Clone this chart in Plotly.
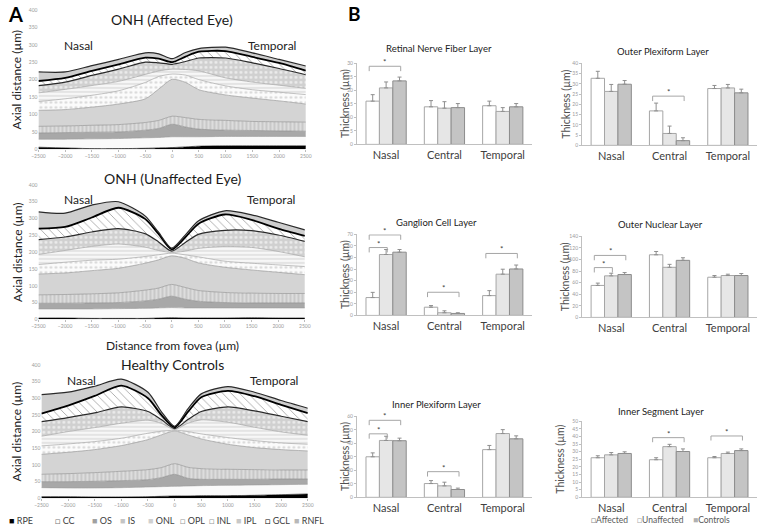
import plotly.graph_objects as go

W, H = 765, 529
FONT = "Lato, 'Open Sans', sans-serif"

# ---------------- Panel A data: upper boundary of each layer (µm) ----------------
X_POS = [-2500, -2000, -1500, -1000, -500, -250, 0, 250, 500, 1000, 1500, 2000, 2500]
LAYER_NAMES = ["RPE", "CC", "OS", "IS", "ONL", "OPL", "INL", "IPL", "GCL", "RNFL"]
X_TICKS = [-2500, -2000, -1500, -1000, -500, 0, 500, 1000, 1500, 2000, 2500]
Y_TICKS = [0, 50, 100, 150, 200, 250, 300, 350, 400]

AFF_RPE = [6, 4, 2, 2, 3, 4, 5, 7, 9, 10, 10, 10, 10]
AFF_CC = [29, 29, 30, 31, 33, 34, 36, 36, 36, 37, 37, 37, 37]
AFF_OS = [47, 48, 49, 50, 55, 60, 72, 64, 58, 55, 54, 53, 52]
AFF_IS = [66, 67, 69, 71, 77, 83, 95, 91, 86, 83, 80, 79, 78]
AFF_ONL = [112, 114, 121, 130, 145, 173, 201, 192, 171, 156, 147, 139, 130]
AFF_OPL = [137, 145, 155, 168, 192, 209, 216, 213, 200, 182, 171, 164, 157]
AFF_INL = [162, 172, 183, 195, 215, 225, 230, 229, 225, 205, 193, 184, 175]
AFF_IPL = [183, 193, 212, 230, 250, 248, 244, 252, 262, 262, 248, 232, 214]
AFF_GCL = [196, 205, 225, 244, 263, 260, 250, 266, 280, 282, 265, 248, 226]
AFF_RNFL = [222, 222, 240, 258, 277, 274, 260, 278, 289, 293, 277, 258, 239]

UNA_RPE = [4, 4, 3, 3, 3, 4, 5, 4, 4, 4, 5, 4, 4]
UNA_CC = [31, 31, 31, 32, 33, 34, 35, 34, 34, 34, 34, 34, 34]
UNA_OS = [48, 48, 49, 50, 55, 60, 69, 60, 54, 50, 49, 49, 49]
UNA_IS = [73, 74, 76, 79, 87, 93, 104, 95, 86, 80, 78, 77, 77]
UNA_ONL = [135, 138, 145, 152, 167, 177, 189, 182, 168, 155, 147, 140, 133]
UNA_OPL = [163, 170, 176, 179, 187, 192, 197, 192, 186, 173, 167, 162, 157]
UNA_INL = [193, 205, 217, 224, 215, 205, 199, 203, 211, 217, 214, 202, 186]
UNA_IPL = [237, 245, 260, 270, 255, 231, 203, 228, 253, 265, 264, 251, 232]
UNA_GCL = [270, 275, 303, 332, 299, 255, 208, 243, 284, 312, 296, 270, 248]
UNA_RNFL = [320, 316, 340, 350, 308, 260, 212, 250, 293, 323, 311, 289, 266]

CON_RPE = [5, 5, 4, 4, 5, 6, 7, 7, 8, 8, 9, 11, 13]
CON_CC = [32, 31, 31, 32, 34, 35, 36, 37, 38, 39, 40, 41, 42]
CON_OS = [50, 50, 51, 53, 56, 62, 72, 60, 57, 57, 57, 58, 58]
CON_IS = [72, 74, 77, 81, 86, 92, 104, 93, 89, 87, 86, 85, 85]
CON_ONL = [132, 138, 146, 158, 176, 190, 202, 190, 178, 162, 152, 146, 142]
CON_OPL = [157, 163, 170, 180, 195, 201, 204, 200, 193, 182, 173, 166, 162]
CON_INL = [186, 200, 212, 225, 234, 225, 206, 225, 235, 228, 213, 199, 189]
CON_IPL = [230, 242, 256, 274, 260, 236, 209, 236, 260, 274, 262, 246, 230]
CON_GCL = [254, 278, 307, 338, 300, 250, 213, 259, 303, 322, 306, 280, 255]
CON_RNFL = [311, 318, 336, 357, 318, 260, 216, 268, 313, 335, 318, 293, 270]

# ---------------- Panel B data: mean thickness and upper error (µm) ----------------
CATS = ["Nasal", "Central", "Temporal"]
GROUPS = ["Affected", "Unaffected", "Controls"]

RNFL_AFF = [16.0, 13.9, 14.3]; RNFL_AFF_ERR = [2.4, 2.3, 1.7]
RNFL_UNA = [20.9, 13.4, 12.2]; RNFL_UNA_ERR = [2.2, 2.4, 1.4]
RNFL_CON = [23.5, 13.6, 13.9]; RNFL_CON_ERR = [1.4, 1.5, 1.2]

OPL_AFF = [32.7, 16.8, 27.7]; OPL_AFF_ERR = [3.4, 3.8, 1.5]
OPL_UNA = [26.3, 5.8, 28.0]; OPL_UNA_ERR = [3.4, 3.6, 1.7]
OPL_CON = [29.8, 2.3, 25.6]; OPL_CON_ERR = [1.8, 1.4, 1.8]

GCL_AFF = [15.4, 7.1, 17.1]; GCL_AFF_ERR = [4.5, 1.4, 4.3]
GCL_UNA = [52.6, 2.3, 35.6]; GCL_UNA_ERR = [4.3, 1.7, 4.3]
GCL_CON = [54.6, 1.7, 40.1]; GCL_CON_ERR = [2.3, 0.6, 3.4]

ONL_AFF = [55.2, 108.1, 69.4]; ONL_AFF_ERR = [4.0, 5.7, 2.9]
ONL_UNA = [71.7, 86.5, 72.3]; ONL_UNA_ERR = [4.6, 5.1, 2.3]
ONL_CON = [74.0, 98.5, 72.3]; ONL_CON_ERR = [3.4, 4.5, 3.4]

IPL_AFF = [30.0, 10.2, 35.3]; IPL_AFF_ERR = [2.9, 2.2, 3.1]
IPL_UNA = [42.1, 8.5, 47.2]; IPL_UNA_ERR = [3.1, 2.7, 2.9]
IPL_CON = [41.9, 5.8, 43.3]; IPL_CON_ERR = [1.9, 1.0, 2.2]

ISL_AFF = [26.0, 24.7, 26.0]; ISL_AFF_ERR = [1.3, 1.3, 0.8]
ISL_UNA = [27.9, 33.3, 28.8]; ISL_UNA_ERR = [1.5, 1.5, 0.9]
ISL_CON = [28.8, 30.1, 30.7]; ISL_CON_ERR = [1.1, 1.7, 1.1]

# significance brackets: (category index, from group, to group, height)
RNFL_SIG = [(0, 0, 2, 28.9)]
OPL_SIG = [(1, 0, 2, 24.0)]
GCL_SIG = [(0, 0, 1, 58.6), (0, 0, 2, 69.5), (1, 0, 2, 20.0), (2, 0, 2, 53.5)]
ONL_SIG = [(0, 0, 1, 86.0), (0, 0, 2, 107.0)]
IPL_SIG = [(0, 0, 1, 47.0), (0, 0, 2, 57.0), (1, 0, 2, 19.0)]
ISL_SIG = [(1, 0, 2, 39.2), (2, 0, 2, 40.3)]

# ---------------- styling ----------------
LAYER_STYLE = {
    "RPE":  dict(fill="#000000", pat=None, line="#000000", lw=0.6),
    "CC":   dict(fill="#fafafa", pat=None, line="#9a9a9a", lw=0.6),
    "OS":   dict(fill="#a8a8a8", pat=None, line="#8a8a8a", lw=0.6),
    "IS":   dict(fill="#cbcbcb", pat=dict(shape="|", fgcolor="#e6e6e6", bgcolor="#c8c8c8", size=4, solidity=0.35), line="#8a8a8a", lw=0.6),
    "ONL":  dict(fill="#d4d4d4", pat=None, line="#8a8a8a", lw=0.6),
    "OPL":  dict(fill="#fbfbfb", pat=dict(shape=".", fgcolor="#d6d6d6", bgcolor="#fbfbfb", size=5, solidity=0.2), line="#9a9a9a", lw=0.6),
    "INL":  dict(fill="#f4f4f4", pat=dict(shape="-", fgcolor="#d8d8d8", bgcolor="#f7f7f7", size=4, solidity=0.3), line="#9a9a9a", lw=0.6),
    "IPL":  dict(fill="#d2d2d2", pat=dict(shape=".", fgcolor="#ededed", bgcolor="#d0d0d0", size=5, solidity=0.25), line="#2a2a2a", lw=1.2),
    "GCL":  dict(fill="#ffffff", pat=dict(shape="\\", fgcolor="#a8a8a8", bgcolor="#ffffff", size=6, solidity=0.15), line="#000000", lw=1.8),
    "RNFL": dict(fill="#cecece", pat=None, line="#2a2a2a", lw=1.2),
}
BAR_COLORS = ["#ffffff", "#e6e6e6", "#c4c4c4"]
BAR_LINES = ["#a6a6a6", "#a6a6a6", "#8c8c8c"]
BARGAP = 0.31

fig = go.Figure()

panels = [
    ("ONH (Affected Eye)", [AFF_RPE, AFF_CC, AFF_OS, AFF_IS, AFF_ONL, AFF_OPL, AFF_INL, AFF_IPL, AFF_GCL, AFF_RNFL]),
    ("ONH (Unaffected Eye)", [UNA_RPE, UNA_CC, UNA_OS, UNA_IS, UNA_ONL, UNA_OPL, UNA_INL, UNA_IPL, UNA_GCL, UNA_RNFL]),
    ("Healthy Controls", [CON_RPE, CON_CC, CON_OS, CON_IS, CON_ONL, CON_OPL, CON_INL, CON_IPL, CON_GCL, CON_RNFL]),
]


def dx(a, b):
    return [a / W, b / W]


def dy(top, bottom):
    return [1 - bottom / H, 1 - top / H]


def ann(text, x, y, size, color, xref="paper", yref="paper", xanchor="center", yanchor="middle", **kw):
    if xref == "paper":
        x = x / W
    if yref == "paper":
        y = 1 - y / H
    return dict(text=text, x=x, y=y, xref=xref, yref=yref, xanchor=xanchor, yanchor=yanchor,
                showarrow=False, font=dict(size=size, color=color, family=FONT), **kw)


# pixel frames of the three profile plots: (x0, x1, ytop(400), ybottom(0), title y)
LEFT_FRAMES = [(32, 304, 7, 148, 17), (32, 303, 184, 320, 178), (35, 306, 366, 501, 366)]
LABEL_Y = [297, 357, 352]

layout = {}
annotations = []
shapes = []

for p, (title, bounds) in enumerate(panels):
    ax = "" if p == 0 else str(p + 1)
    for k, name in enumerate(LAYER_NAMES):
        st = LAYER_STYLE[name]
        tr = dict(
            x=X_POS, y=bounds[k], mode="lines",
            line=dict(color=st["line"], width=st["lw"], shape="spline", smoothing=0.7),
            fill="tozeroy" if k == 0 else "tonexty",
            fillcolor=st["fill"], name=name, showlegend=False, hoverinfo="skip",
            xaxis="x" + ax, yaxis="y" + ax,
        )
        if st["pat"] is not None:
            tr["fillpattern"] = dict(fillmode="replace", **st["pat"])
        fig.add_trace(go.Scatter(**tr))
    x0, x1, yt, yb, tty = LEFT_FRAMES[p]
    layout["xaxis" + ax] = dict(
        domain=dx(x0, x1), range=[-2500, 2500], anchor="y" + ax,
        tickvals=X_TICKS, tickfont=dict(size=5, color="#9a9a9a"),
        ticks="outside", ticklen=2, tickcolor="#bbbbbb", showgrid=False,
        zeroline=False, showline=False,
    )
    layout["yaxis" + ax] = dict(
        domain=dy(yt, yb), range=[0, 400], anchor="x" + ax,
        tickvals=Y_TICKS, tickfont=dict(size=5, color="#9a9a9a"),
        ticks="", showgrid=False, zeroline=False, showline=False,
    )
    annotations.append(ann(title, 168, tty, 14, "#1a1a1a"))
    annotations.append(ann("Nasal", -1750, LABEL_Y[p], 12, "#222222", xref="x" + ax, yref="y" + ax))
    annotations.append(ann("Temporal", 1870, LABEL_Y[p], 12, "#222222", xref="x" + ax, yref="y" + ax))
    annotations.append(ann("Axial distance (µm)", 10, (yt + yb) / 2, 12, "#222222", textangle=-90))

annotations.append(ann("Distance from fovea (µm)", 168, 346, 12, "#222222"))

# left legend (panel A)
LEG_GLYPH = {"RPE": ("■", "#000000"), "CC": ("□", "#777777"), "OS": ("■", "#a0a0a0"), "IS": ("■", "#c4c4c4"),
             "ONL": ("■", "#d0d0d0"), "OPL": ("□", "#999999"), "INL": ("□", "#999999"), "IPL": ("■", "#c8c8c8"),
             "GCL": ("□", "#000000"), "RNFL": ("■", "#b8b8b8")}
LEG_X = [0, 47, 84, 113, 141, 174, 203, 231, 260, 290]
for name, lx in zip(LAYER_NAMES, LEG_X):
    g, c = LEG_GLYPH[name]
    annotations.append(ann(f"<span style='color:{c}'>{g}</span> {name}", lx, 523, 9, "#404040", xanchor="left"))

# ---------------- Panel B ----------------
charts = [
    ("Retinal Nerve Fiber Layer", [RNFL_AFF, RNFL_UNA, RNFL_CON], [RNFL_AFF_ERR, RNFL_UNA_ERR, RNFL_CON_ERR], 30, 5, RNFL_SIG),
    ("Outer Plexiform Layer", [OPL_AFF, OPL_UNA, OPL_CON], [OPL_AFF_ERR, OPL_UNA_ERR, OPL_CON_ERR], 40, 5, OPL_SIG),
    ("Ganglion Cell Layer", [GCL_AFF, GCL_UNA, GCL_CON], [GCL_AFF_ERR, GCL_UNA_ERR, GCL_CON_ERR], 70, 10, GCL_SIG),
    ("Outer Nuclear Layer", [ONL_AFF, ONL_UNA, ONL_CON], [ONL_AFF_ERR, ONL_UNA_ERR, ONL_CON_ERR], 140, 20, ONL_SIG),
    ("Inner Plexiform Layer", [IPL_AFF, IPL_UNA, IPL_CON], [IPL_AFF_ERR, IPL_UNA_ERR, IPL_CON_ERR], 60, 10, IPL_SIG),
    ("Inner Segment Layer", [ISL_AFF, ISL_UNA, ISL_CON], [ISL_AFF_ERR, ISL_UNA_ERR, ISL_CON_ERR], 50, 5, ISL_SIG),
]
# pixel frames: (x0, x1, ytop(max), ybottom(0), title x, title y, ytitle x)
BAR_FRAMES = [
    (356, 534, 61, 143, 439, 46, 344),
    (585, 763, 61, 144, 667, 49, 569),
    (356, 534, 234, 316, 437, 222, 344),
    (585, 763, 236, 318, 665, 224, 567),
    (356, 534, 418, 500, 437, 406, 344),
    (585, 763, 423, 500, 665, 413, 563),
]
gw = (1 - BARGAP) / 3
for c, (title, means, errs, ymax, dtick, sig) in enumerate(charts):
    ax = str(c + 4)
    for g in range(3):
        fig.add_trace(go.Bar(
            x=[0, 1, 2], y=means[g], name=GROUPS[g], showlegend=False,
            marker=dict(color=BAR_COLORS[g], line=dict(color=BAR_LINES[g], width=1)),
            error_y=dict(type="data", array=errs[g], arrayminus=[0, 0, 0], symmetric=False,
                         color="#8f8f8f", thickness=1, width=2),
            xaxis="x" + ax, yaxis="y" + ax, hoverinfo="skip",
        ))
    x0, x1, yt, yb, tx, ty, ytx = BAR_FRAMES[c]
    layout["xaxis" + ax] = dict(
        domain=dx(x0, x1), range=[-0.5, 2.5], anchor="y" + ax,
        tickvals=[0, 1, 2], ticktext=CATS, tickfont=dict(size=11, color="#404040", family=FONT),
        ticks="", showline=True, linecolor="#c0c0c0", linewidth=1, showgrid=False, zeroline=False,
    )
    layout["yaxis" + ax] = dict(
        domain=dy(yt, yb), range=[0, ymax], anchor="x" + ax, dtick=dtick,
        tickfont=dict(size=5, color="#9a9a9a"), ticks="outside", ticklen=2, tickcolor="#c0c0c0",
        showline=True, linecolor="#c0c0c0", linewidth=1, showgrid=False, zeroline=False,
    )
    annotations.append(ann(title, tx, ty, 9.5, "#222222"))
    annotations.append(ann("Thickness (µm)", ytx, (yt + yb) / 2, 10.5, "#505050", textangle=-90))
    leg = 0.06 * ymax
    for (cat, ga, gb, h) in sig:
        xa = cat + (ga - 1) * gw - 0.06
        xb = cat + (gb - 1) * gw + 0.02
        shapes.append(dict(type="path", xref="x" + ax, yref="y" + ax,
                           path=f"M {xa},{h - leg} L {xa},{h} L {xb},{h} L {xb},{h - leg}",
                           line=dict(color="#a6a6a6", width=1)))
        annotations.append(ann("*", (xa + xb) / 2, h, 8, "#404040", xref="x" + ax, yref="y" + ax,
                               yanchor="bottom", yshift=-3))

# right legend (panel B)
RLEG = [("□", "#888888", 592), ("□", "#aaaaaa", 639), ("■", "#b0b0b0", 696)]
for (g, col, lx), name in zip(RLEG, GROUPS):
    annotations.append(ann(f"<span style='color:{col}'>{g}</span>{name}", lx, 523, 8.5, "#595959", xanchor="left"))

annotations.append(ann("<b>A</b>", 9, 11, 20, "#000000"))
annotations.append(ann("<b>B</b>", 353, 11, 19, "#000000"))

fig.update_layout(
    width=W, height=H, margin=dict(l=0, r=0, t=0, b=0),
    paper_bgcolor="white", plot_bgcolor="rgba(0,0,0,0)",
    barmode="group", bargap=BARGAP, bargroupgap=0,
    font=dict(family=FONT), showlegend=False,
    annotations=annotations, shapes=shapes, **layout,
)
fig.write_html("out.html", config={"displayModeBar": False},
               post_script="document.body.style.margin='0';document.body.style.overflow='hidden';")
